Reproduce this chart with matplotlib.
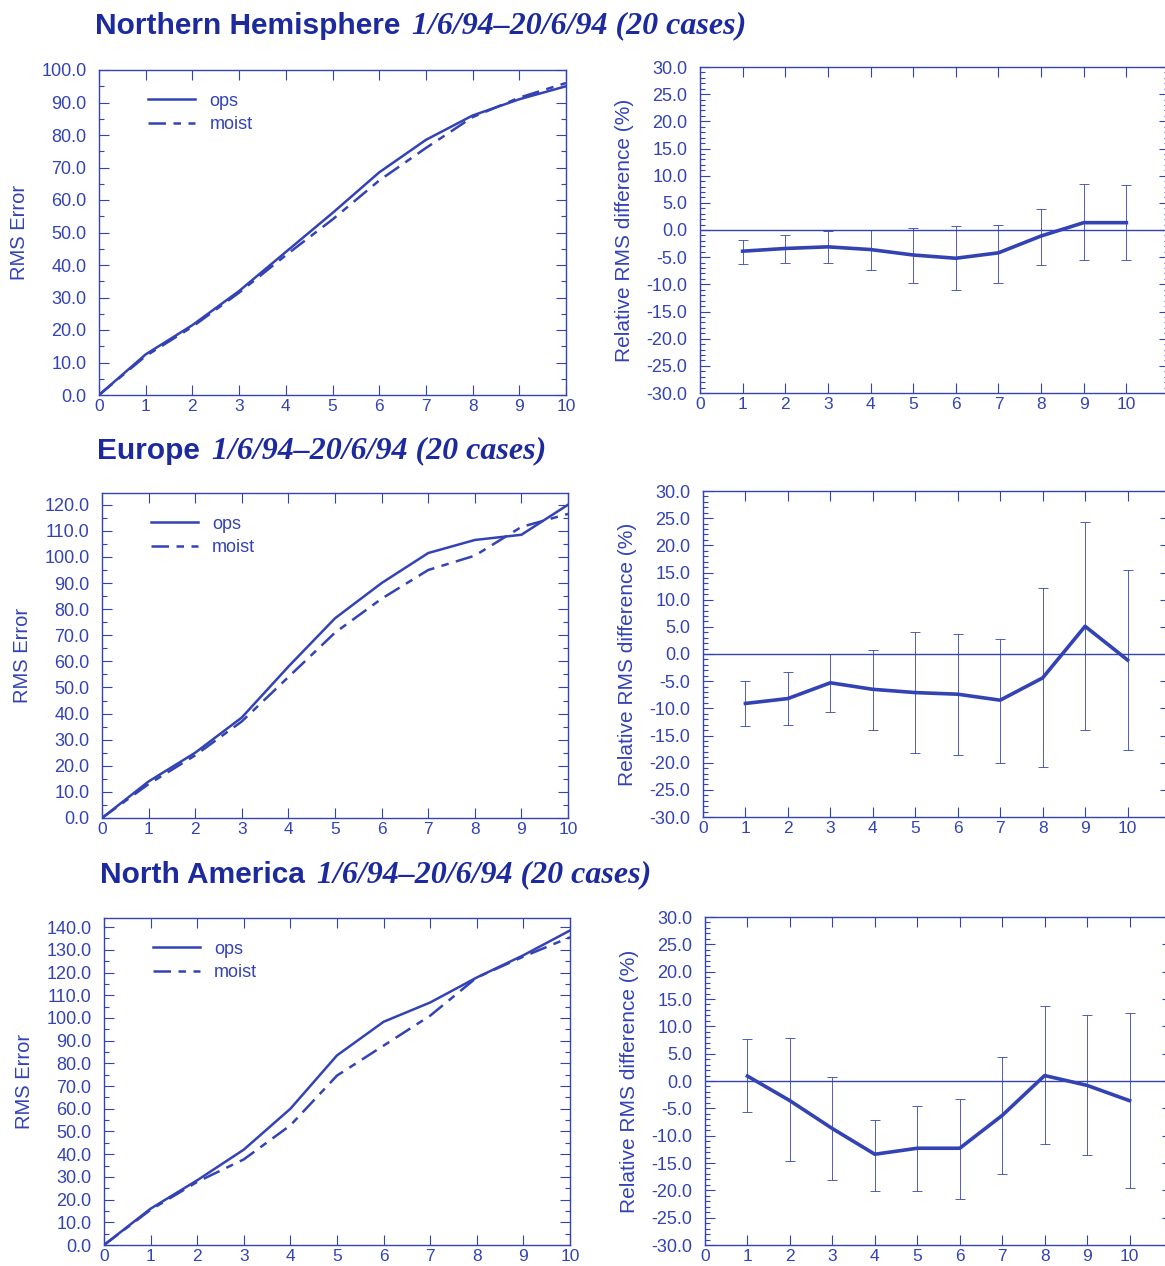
import matplotlib
matplotlib.use('Agg')
import matplotlib.pyplot as plt
from matplotlib.ticker import MultipleLocator, FormatStrFormatter

plt.rcParams['font.family'] = ['Liberation Sans', 'DejaVu Sans']

BLUE = '#3343b4'
TITLE_BLUE = '#1c2a9e'

steps = [0, 1, 2, 3, 4, 5, 6, 7, 8, 9, 10]
days = [1, 2, 3, 4, 5, 6, 7, 8, 9, 10]

regions = ['Northern Hemisphere', 'Europe', 'North America']
period = '1/6/94\u201320/6/94 (20 cases)'

# RMS error, ops vs moist
nh_ops = [0, 12.5, 21.5, 32, 44, 56, 68.5, 78.5, 86, 91, 95]
nh_moist = [0, 12, 21, 31.5, 43, 54, 66, 76, 85.5, 91.5, 96]
eu_ops = [0, 14, 25, 38.5, 58, 76.5, 90, 101.5, 106.5, 108.5, 120]
eu_moist = [0, 13, 24, 37, 54, 71, 84, 95, 100.5, 111.5, 116.5]
na_ops = [0, 16, 28.5, 42, 60, 83.5, 98.3, 106.8, 117.8, 127.6, 138.5]
na_moist = [0, 15.5, 27.8, 37.7, 52.7, 74.6, 87.8, 101, 117.8, 127, 135.5]

# relative RMS difference (%) with error bar limits
nh_rel = [-3.9, -3.4, -3.1, -3.6, -4.6, -5.2, -4.2, -1.1, 1.35, 1.35]
nh_lo = [-6.2, -6.0, -6.0, -7.3, -9.7, -11.0, -9.7, -6.5, -5.6, -5.6]
nh_hi = [-1.8, -0.9, -0.2, 0.0, 0.4, 0.7, 1.0, 3.9, 8.4, 8.2]
eu_rel = [-9.1, -8.2, -5.3, -6.5, -7.1, -7.4, -8.5, -4.4, 5.1, -1.1]
eu_lo = [-13.3, -13.0, -10.7, -14.0, -18.2, -18.6, -20.0, -20.8, -14.0, -17.6]
eu_hi = [-5.0, -3.4, 0.0, 0.8, 4.1, 3.6, 2.8, 12.2, 24.3, 15.5]
na_rel = [0.9, -3.6, -8.7, -13.4, -12.3, -12.3, -6.3, 1.0, -0.8, -3.6]
na_lo = [-5.7, -14.7, -18.2, -20.1, -20.2, -21.5, -17.1, -11.6, -13.5, -19.6]
na_hi = [7.6, 7.9, 0.7, -7.1, -4.6, -3.3, 4.3, 13.8, 12.1, 12.4]

rms_data = [(nh_ops, nh_moist, 100), (eu_ops, eu_moist, 124.5), (na_ops, na_moist, 144)]
rel_data = [(nh_rel, nh_lo, nh_hi), (eu_rel, eu_lo, eu_hi), (na_rel, na_lo, na_hi)]

W, H = 1165, 1266
fig = plt.figure(figsize=(W / 100, H / 100), dpi=100)


def px_axes(left, right, top, bottom):
    return fig.add_axes([left / W, 1 - bottom / H, (right - left) / W, (bottom - top) / H])


def style(ax):
    for s in ax.spines.values():
        s.set_color(BLUE)
        s.set_linewidth(1.0)
    ax.tick_params(which='both', direction='in', top=True, right=True, colors=BLUE,
                   labelcolor=BLUE, labelsize=13, width=0.8)
    ax.tick_params(which='major', length=7)
    ax.tick_params(which='minor', length=3.5)
    ax.tick_params(axis='x', pad=3, labelsize=12.5)
    ax.tick_params(axis='y', pad=9)


left_pos = [(99, 566, 70, 395), (102, 568, 493, 818), (104, 570, 918, 1245)]
right_pos = [(700, 1169, 67, 393), (703, 1170, 491, 817), (705, 1172, 917, 1245)]
title_pos = [(95, 26), (97, 451), (100, 875)]

for i in range(3):
    ops, moist, ytop = rms_data[i]
    ax = px_axes(*left_pos[i])
    ax.plot(steps, ops, color=BLUE, lw=1.8, label='ops')
    ax.plot(steps, moist, color=BLUE, lw=1.8, dashes=[7, 3, 3, 3], label='moist')
    ax.set_xlim(0, 10)
    ax.set_ylim(0, ytop)
    ax.xaxis.set_major_locator(MultipleLocator(1))
    ax.yaxis.set_major_locator(MultipleLocator(10))
    ax.yaxis.set_minor_locator(MultipleLocator(5))
    ax.yaxis.set_major_formatter(FormatStrFormatter('%.1f'))
    style(ax)
    ax.set_ylabel('RMS Error', color=BLUE, fontsize=14.5, labelpad=9)
    leg = ax.legend(loc='upper left', bbox_to_anchor=(0.07, 0.98), frameon=False,
                    fontsize=13, handlelength=2.6, labelspacing=0.35)
    for t in leg.get_texts():
        t.set_color(BLUE)

    rel, lo, hi = rel_data[i]
    ax2 = px_axes(*right_pos[i])
    ax2.axhline(0, color=BLUE, lw=1.0)
    yerr = [[r - l for r, l in zip(rel, lo)], [h - r for r, h in zip(rel, hi)]]
    ax2.errorbar(days, rel, yerr=yerr, fmt='none', ecolor=BLUE, elinewidth=0.6,
                 capsize=3.5, capthick=0.6)
    ax2.plot(days, rel, color=BLUE, lw=2.6)
    ax2.set_xlim(0, 11)
    ax2.set_ylim(-30, 30)
    ax2.set_xticks(steps)
    ax2.yaxis.set_major_locator(MultipleLocator(5))
    ax2.yaxis.set_minor_locator(MultipleLocator(1))
    ax2.yaxis.set_major_formatter(FormatStrFormatter('%.1f'))
    style(ax2)
    ax2.set_ylabel('Relative RMS difference (%)', color=BLUE, fontsize=15, labelpad=9)

fig.canvas.draw()
renderer = fig.canvas.get_renderer()
for i in range(3):
    x0, yc = title_pos[i]
    t1 = fig.text(x0 / W, 1 - yc / H, regions[i], fontsize=21.5, fontweight='bold',
                  color=TITLE_BLUE, va='center', ha='left')
    bb = t1.get_window_extent(renderer=renderer)
    fig.text((bb.x1 + 12) / W, 1 - yc / H, period, fontsize=23, fontweight='bold',
             fontstyle='italic', family='Liberation Serif', color=TITLE_BLUE,
             va='center', ha='left')

fig.savefig('out.png', dpi=100)
